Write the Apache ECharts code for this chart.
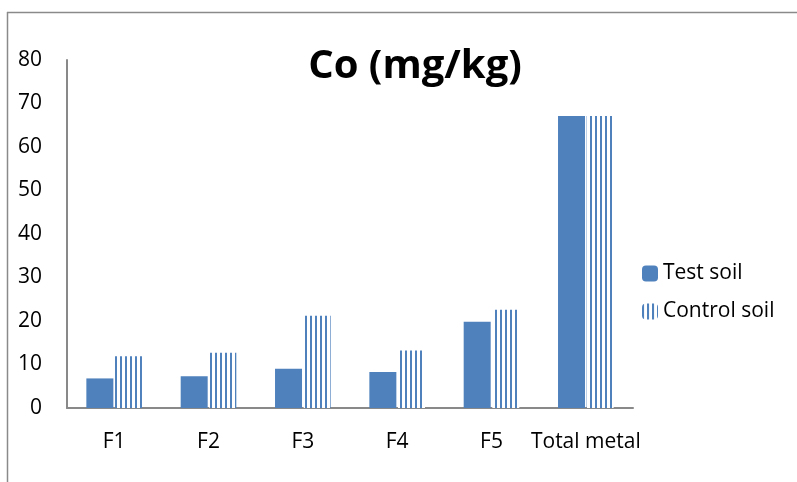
<!DOCTYPE html>
<html>
<head>
<meta charset="utf-8">
<script src="https://cdn.jsdelivr.net/npm/echarts@6/dist/echarts.min.js"></script>
<style>html,body{margin:0;padding:0;background:#fff}#c{width:797px;height:482px}</style>
</head>
<body>
<div id="c"></div>
<script>
const categories = ['F1', 'F2', 'F3', 'F4', 'F5', 'Total metal'];
const testSoil = [6.8, 7.3, 9.0, 8.3, 19.8, 67.1];
const controlSoil = [11.9, 12.7, 21.2, 13.2, 22.6, 67.1];
const yTicks = [0, 10, 20, 30, 40, 50, 60, 70, 80];

const blue = '#4F81BD';
const pc = document.createElement('canvas');
pc.width = 5; pc.height = 10;
const ctx = pc.getContext('2d');
ctx.fillStyle = '#ffffff'; ctx.fillRect(0, 0, 5, 10);
ctx.fillStyle = blue; ctx.fillRect(0, 0, 2, 10);

const font = '"Open Sans", sans-serif';
const chart = echarts.init(document.getElementById('c'));
chart.setOption({
  animation: false,
  title: {
    text: 'Co (mg/kg)', left: 410, top: 42, textAlign: 'center',
    textStyle: { fontFamily: font, fontSize: 40, fontWeight: 'bold', color: '#000' }
  },
  legend: {
    orient: 'vertical', left: 637, top: 258, itemWidth: 16, itemHeight: 16, itemGap: 17,
    textStyle: { fontFamily: font, fontSize: 21, color: '#000' },
    data: ['Test soil', 'Control soil']
  },
  grid: { left: 67, right: 164, top: 60, bottom: 74 },
  xAxis: {
    type: 'category', data: categories,
    axisLine: { lineStyle: { color: '#898989', width: 2 } },
    axisTick: { show: false },
    axisLabel: { fontFamily: font, fontSize: 21, color: '#000', margin: 24, interval: 0 }
  },
  yAxis: {
    type: 'value', min: yTicks[0], max: yTicks[yTicks.length - 1], interval: 10,
    axisLine: { show: true, lineStyle: { color: '#898989', width: 2 } },
    axisTick: { show: false },
    splitLine: { show: false },
    axisLabel: { fontFamily: font, fontSize: 21, color: '#000', margin: 25 }
  },
  series: [
    { name: 'Test soil', type: 'bar', data: testSoil, barWidth: 27, barGap: '6%',
      itemStyle: { color: blue } },
    { name: 'Control soil', type: 'bar', data: controlSoil, barWidth: 27,
      itemStyle: { color: { image: pc, repeat: 'repeat' } } }
  ],
  graphic: [
    { type: 'line', shape: { x1: 7.5, y1: 12, x2: 7.5, y2: 482 }, style: { stroke: '#8a8a8a', lineWidth: 1.5 } },
    { type: 'line', shape: { x1: 7, y1: 12.5, x2: 797, y2: 12.5 }, style: { stroke: '#8a8a8a', lineWidth: 1.5 } }
  ]
});
</script>
</body>
</html>
